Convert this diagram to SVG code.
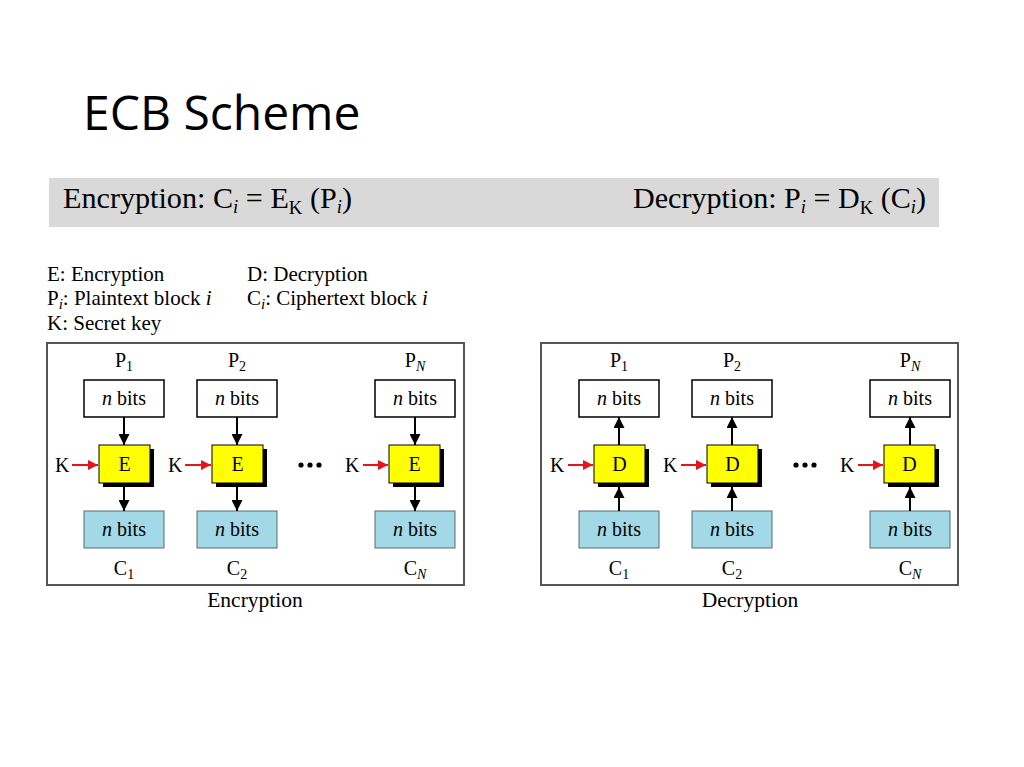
<svg xmlns="http://www.w3.org/2000/svg" width="1024" height="767" viewBox="0 0 1024 767">
<defs>
<marker id="ab" viewBox="0 0 10 10" refX="10" refY="5" markerWidth="11" markerHeight="11" markerUnits="userSpaceOnUse" orient="auto"><path d="M0,0 L10,5 L0,10 Z" fill="#000"/></marker>
<marker id="ar" viewBox="0 0 10 10" refX="10" refY="5" markerWidth="10" markerHeight="10" markerUnits="userSpaceOnUse" orient="auto"><path d="M0,0 L10,5 L0,10 Z" fill="#e8141c"/></marker>
<style>
.t{font-family:"Liberation Serif","Times New Roman",serif;fill:#000}
.s20{font-size:20px}
.pb{fill:#fff;stroke:#000;stroke-width:1.5}
.cb{fill:#a3d8e6;stroke:#5a6a70;stroke-width:1}
.yb{fill:#ffff00;stroke:#000;stroke-width:1}
.sh{fill:#000}
.panel{fill:#fff;stroke:#555;stroke-width:2}
.al{stroke:#000;stroke-width:2;fill:none;marker-end:url(#ab)}
.rl{stroke:#e8141c;stroke-width:2;fill:none;marker-end:url(#ar)}
</style>
</defs>
<rect width="1024" height="767" fill="#fff"/>
<text x="83" y="130" font-family="'Open Sans','Noto Sans',sans-serif" font-size="48" fill="#000">ECB Scheme</text>
<g id="formula">
<rect x="49" y="178" width="890" height="49" fill="#d9d9d9"/>
<text class="t" x="63" y="208" font-size="29" textLength="289" lengthAdjust="spacingAndGlyphs">Encryption: C<tspan font-style="italic" font-size="18" dy="5">i</tspan><tspan dy="-5"> = E</tspan><tspan font-size="18" dy="6">K</tspan><tspan dy="-6"> (P</tspan><tspan font-style="italic" font-size="18" dy="5">i</tspan><tspan dy="-5">)</tspan></text>
<text class="t" x="633" y="208" font-size="29" textLength="293" lengthAdjust="spacingAndGlyphs">Decryption: P<tspan font-style="italic" font-size="18" dy="5">i</tspan><tspan dy="-5"> = D</tspan><tspan font-size="18" dy="6">K</tspan><tspan dy="-6"> (C</tspan><tspan font-style="italic" font-size="18" dy="5">i</tspan><tspan dy="-5">)</tspan></text>
</g>
<g id="legend" class="t" font-size="21">
<text x="47" y="281">E:  Encryption</text>
<text x="247" y="281">D:  Decryption</text>
<text x="47" y="305">P<tspan font-style="italic" font-size="15" dy="4">i</tspan><tspan dy="-4">: Plaintext block </tspan><tspan font-style="italic">i</tspan></text>
<text x="247" y="305">C<tspan font-style="italic" font-size="15" dy="4">i</tspan><tspan dy="-4">: Ciphertext block </tspan><tspan font-style="italic">i</tspan></text>
<text x="47" y="330">K: Secret key</text>
</g>
<g id="enc-panel">
<rect class="panel" x="47" y="343" width="417" height="242"/>
<text class="t" font-size="21.5" x="255" y="607" text-anchor="middle">Encryption</text>
</g>
<g id="dec-panel">
<rect class="panel" x="541" y="343" width="417" height="242"/>
<text class="t" font-size="21.5" x="750" y="607" text-anchor="middle">Decryption</text>
</g>
<g id="enc1">
<text class="t s20" x="124" y="367" text-anchor="middle">P<tspan font-size="14" dy="4">1</tspan></text>
<rect class="pb" x="84" y="380" width="80" height="37"/>
<text class="t s20" x="124" y="405" text-anchor="middle"><tspan font-style="italic">n</tspan> bits</text>
<rect class="sh" x="103" y="449" width="51" height="38"/>
<rect class="yb" x="99" y="445" width="51" height="38"/>
<text class="t s20" x="124.5" y="471" text-anchor="middle">E</text>
<text class="t s20" x="55" y="472">K</text>
<rect class="cb" x="84" y="511" width="80" height="37"/>
<text class="t s20" x="124" y="536" text-anchor="middle"><tspan font-style="italic">n</tspan> bits</text>
<text class="t s20" x="124" y="575" text-anchor="middle">C<tspan font-size="14" dy="4">1</tspan></text>
</g>
<g id="enc2">
<text class="t s20" x="237" y="367" text-anchor="middle">P<tspan font-size="14" dy="4">2</tspan></text>
<rect class="pb" x="197" y="380" width="80" height="37"/>
<text class="t s20" x="237" y="405" text-anchor="middle"><tspan font-style="italic">n</tspan> bits</text>
<rect class="sh" x="216" y="449" width="51" height="38"/>
<rect class="yb" x="212" y="445" width="51" height="38"/>
<text class="t s20" x="237.5" y="471" text-anchor="middle">E</text>
<text class="t s20" x="168" y="472">K</text>
<rect class="cb" x="197" y="511" width="80" height="37"/>
<text class="t s20" x="237" y="536" text-anchor="middle"><tspan font-style="italic">n</tspan> bits</text>
<text class="t s20" x="237" y="575" text-anchor="middle">C<tspan font-size="14" dy="4">2</tspan></text>
</g>
<g id="enc-dots" fill="#000">
<circle cx="301" cy="465" r="2.6"/><circle cx="310" cy="465" r="2.6"/><circle cx="319" cy="465" r="2.6"/>
</g>
<g id="encN">
<text class="t s20" x="415" y="367" text-anchor="middle">P<tspan font-style="italic" font-size="14" dy="4">N</tspan></text>
<rect class="pb" x="375" y="380" width="80" height="37"/>
<text class="t s20" x="415" y="405" text-anchor="middle"><tspan font-style="italic">n</tspan> bits</text>
<rect class="sh" x="393" y="449" width="51" height="38"/>
<rect class="yb" x="389" y="445" width="51" height="38"/>
<text class="t s20" x="414.5" y="471" text-anchor="middle">E</text>
<text class="t s20" x="345" y="472">K</text>
<rect class="cb" x="375" y="511" width="80" height="37"/>
<text class="t s20" x="415" y="536" text-anchor="middle"><tspan font-style="italic">n</tspan> bits</text>
<text class="t s20" x="415" y="575" text-anchor="middle">C<tspan font-style="italic" font-size="14" dy="4">N</tspan></text>
</g>
<g id="dec1">
<text class="t s20" x="619" y="367" text-anchor="middle">P<tspan font-size="14" dy="4">1</tspan></text>
<rect class="pb" x="579" y="380" width="80" height="37"/>
<text class="t s20" x="619" y="405" text-anchor="middle"><tspan font-style="italic">n</tspan> bits</text>
<rect class="sh" x="598" y="449" width="51" height="38"/>
<rect class="yb" x="594" y="445" width="51" height="38"/>
<text class="t s20" x="619.5" y="471" text-anchor="middle">D</text>
<text class="t s20" x="550" y="472">K</text>
<rect class="cb" x="579" y="511" width="80" height="37"/>
<text class="t s20" x="619" y="536" text-anchor="middle"><tspan font-style="italic">n</tspan> bits</text>
<text class="t s20" x="619" y="575" text-anchor="middle">C<tspan font-size="14" dy="4">1</tspan></text>
</g>
<g id="dec2">
<text class="t s20" x="732" y="367" text-anchor="middle">P<tspan font-size="14" dy="4">2</tspan></text>
<rect class="pb" x="692" y="380" width="80" height="37"/>
<text class="t s20" x="732" y="405" text-anchor="middle"><tspan font-style="italic">n</tspan> bits</text>
<rect class="sh" x="711" y="449" width="51" height="38"/>
<rect class="yb" x="707" y="445" width="51" height="38"/>
<text class="t s20" x="732.5" y="471" text-anchor="middle">D</text>
<text class="t s20" x="663" y="472">K</text>
<rect class="cb" x="692" y="511" width="80" height="37"/>
<text class="t s20" x="732" y="536" text-anchor="middle"><tspan font-style="italic">n</tspan> bits</text>
<text class="t s20" x="732" y="575" text-anchor="middle">C<tspan font-size="14" dy="4">2</tspan></text>
</g>
<g id="dec-dots" fill="#000">
<circle cx="796" cy="465" r="2.6"/><circle cx="805" cy="465" r="2.6"/><circle cx="814" cy="465" r="2.6"/>
</g>
<g id="decN">
<text class="t s20" x="910" y="367" text-anchor="middle">P<tspan font-style="italic" font-size="14" dy="4">N</tspan></text>
<rect class="pb" x="870" y="380" width="80" height="37"/>
<text class="t s20" x="910" y="405" text-anchor="middle"><tspan font-style="italic">n</tspan> bits</text>
<rect class="sh" x="888" y="449" width="51" height="38"/>
<rect class="yb" x="884" y="445" width="51" height="38"/>
<text class="t s20" x="909.5" y="471" text-anchor="middle">D</text>
<text class="t s20" x="840" y="472">K</text>
<rect class="cb" x="870" y="511" width="80" height="37"/>
<text class="t s20" x="910" y="536" text-anchor="middle"><tspan font-style="italic">n</tspan> bits</text>
<text class="t s20" x="910" y="575" text-anchor="middle">C<tspan font-style="italic" font-size="14" dy="4">N</tspan></text>
</g>
<g id="connectors">
<line class="al" x1="124" y1="417" x2="124" y2="445"/>
<line class="al" x1="124" y1="487" x2="124" y2="511"/>
<line class="al" x1="237" y1="417" x2="237" y2="445"/>
<line class="al" x1="237" y1="487" x2="237" y2="511"/>
<line class="al" x1="415" y1="417" x2="415" y2="445"/>
<line class="al" x1="415" y1="487" x2="415" y2="511"/>
<line class="rl" x1="72" y1="465" x2="98" y2="465"/>
<line class="rl" x1="185" y1="465" x2="211" y2="465"/>
<line class="rl" x1="363" y1="465" x2="388" y2="465"/>
<line class="al" x1="619" y1="445" x2="619" y2="417"/>
<line class="al" x1="619" y1="511" x2="619" y2="487"/>
<line class="al" x1="732" y1="445" x2="732" y2="417"/>
<line class="al" x1="732" y1="511" x2="732" y2="487"/>
<line class="al" x1="910" y1="445" x2="910" y2="417"/>
<line class="al" x1="910" y1="511" x2="910" y2="487"/>
<line class="rl" x1="568" y1="465" x2="593" y2="465"/>
<line class="rl" x1="681" y1="465" x2="706" y2="465"/>
<line class="rl" x1="858" y1="465" x2="883" y2="465"/>
</g>
</svg>
